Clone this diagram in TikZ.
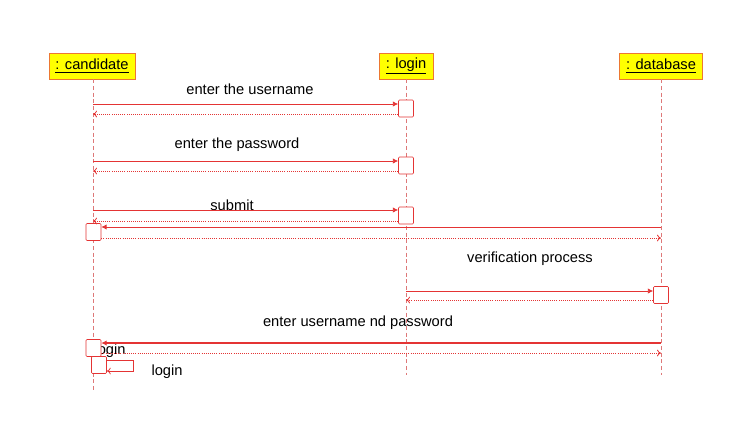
\documentclass[tikz,border=0pt]{standalone}
\usepackage{fontspec}
\setmainfont{Liberation Sans}
\usetikzlibrary{arrows.meta,positioning}

\definecolor{rojo}{RGB}{228,52,52}
\definecolor{rosa}{RGB}{222,120,120}
\definecolor{amarillo}{RGB}{255,255,0}
\definecolor{naranja}{RGB}{236,120,50}

\tikzset{
	cabeza/.style={draw=naranja, fill=amarillo, minimum height=19.5pt, inner xsep=5pt, font=\fontsize{11}{13}\selectfont},
	vida/.style={draw=rosa, dash pattern=on 3pt off 2pt, line width=0.6pt},
	activa/.style={draw=rojo, fill=white, minimum width=11.25pt, minimum height=12.75pt, inner sep=0pt, rounded corners=0.8pt},
	mensaje/.style={draw=rojo, line width=0.6pt, -{Latex[length=4pt,width=4pt]}},
	retorno/.style={draw=rojo, densely dotted, line width=0.6pt, -{To[length=3pt,width=5pt]}},
	etiqueta/.style={font=\fontsize{11}{13}\selectfont}
}

\begin{document}
\begin{tikzpicture}[x=0.75pt,y=-0.75pt]
			\useasboundingbox (0,0) rectangle (753,430);

			% Objetos del diagrama de secuencia
			\node[cabeza, minimum width=63pt] (cand) at (92,66) {\underline{: candidate}};
			\node[cabeza, minimum width=37.5pt] (login) at (406,66) {\underline{: login}};
			\node[cabeza, minimum width=62.25pt] (db) at (661,66) {\underline{: database}};

			% Lineas de vida
			\coordinate (candfin) at (93,392);     % Fin de la linea de candidate
			\coordinate (loginfin) at (406,375);   % Fin de la linea de login
			\coordinate (dbfin) at (661,375);      % Fin de la linea de database
			\draw[vida] (cand.south -| candfin) -- (candfin);
			\draw[vida] (login.south) -- (loginfin);
			\draw[vida] (db.south) -- (dbfin);

			% Textos de los mensajes
			\node[etiqueta] (t1) at (250,89) {enter the username};
			\node[etiqueta] (t2) at (237,145) {enter the password};
			\node[etiqueta] (t3) at (232,205) {submit};
			\node[etiqueta] (t4) at (530,259) {verification process};
			\node[etiqueta] (t5) at (358,323) {enter username nd password};
			\node[etiqueta] (t6) at (110,351) {login};
			\node[etiqueta] (t7) at (167,372) {login};

			% Cajas de activacion
			\node[activa] (a1) at (406,108.5) {};
			\node[activa] (a2) at (406,165.5) {};
			\node[activa] (a3) at (406,215.5) {};
			\node[activa] (c1) at (93.5,232) {};
			\node[activa] (d1) at (661,295) {};
			\node[activa] (c2) at (93.5,348) {};
			\node[activa] (c3) at (99,365) {};

			% Puntos de salida y llegada de los mensajes
			\coordinate (m1) at (93,104);
			\coordinate (r1) at (93,114);
			\coordinate (m2) at (93,161);
			\coordinate (r2) at (93,171);
			\coordinate (m3) at (93,210);
			\coordinate (r3) at (93,221);
			\coordinate (m4) at (661,227);
			\coordinate (r4) at (661,238);
			\coordinate (m5) at (406,291);
			\coordinate (r5) at (406,300);
			\coordinate (m6) at (661,343);
			\coordinate (r6) at (661,353);
			\coordinate (s1) at (133,360);        % Esquina del mensaje propio
			\coordinate (s2) at (133,371);

			% Mensajes y retornos
			\draw[mensaje] (m1) -- (m1 -| a1.west);
			\draw[retorno] (r1 -| a1.west) -- (r1);
			\draw[mensaje] (m2) -- (m2 -| a2.west);
			\draw[retorno] (r2 -| a2.west) -- (r2);
			\draw[mensaje] (m3) -- (m3 -| a3.west);
			\draw[retorno] (r3 -| a3.west) -- (r3);
			\draw[mensaje] (m4) -- (m4 -| c1.east);
			\draw[retorno] (r4 -| c1.east) -- (r4);
			\draw[mensaje] (m5) -- (m5 -| d1.west);
			\draw[retorno] (r5 -| d1.west) -- (r5);
			\draw[mensaje, line width=1pt] (m6) -- (m6 -| c2.east);
			\draw[retorno] (r6 -| c2.east) -- (r6);

			% Mensaje propio
			\draw[draw=rojo, line width=0.6pt, -{To[length=3pt,width=5pt]}] (s1 -| c3.east) -- (s1) -- (s2) -- (s2 -| c3.east);

		\end{tikzpicture}
\end{document}
